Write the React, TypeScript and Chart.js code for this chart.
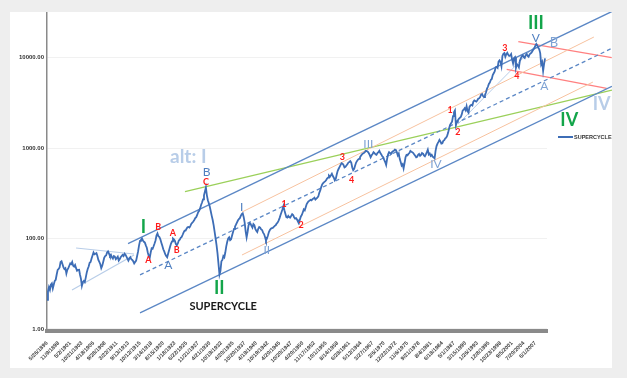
import React, { useEffect, useRef } from "react";
import { Chart, registerables } from "chart.js";

Chart.register(...registerables);

// ---------- DATA ----------
const seriesName = "SUPERCYCLE";

// tick labels of the category-like x axis (one every 6 index units)
const xTickLabels = [
  "5/26/1896", "11/9/1898", "5/2/1901", "10/21/1903", "4/18/1906", "9/28/1908",
  "3/22/1911", "9/13/1913", "10/12/1915", "3/14/1918", "8/15/1920", "1/18/1923",
  "6/22/1925", "11/21/1927", "4/21/1930", "10/19/1932", "4/20/1935", "10/20/1937",
  "4/19/1940", "10/19/1942", "4/20/1945", "10/20/1947", "4/20/1950", "11/17/1952",
  "10/1/1955", "8/14/1958", "6/28/1961", "5/12/1964", "3/27/1967", "2/6/1970",
  "12/22/1972", "11/6/1975", "9/21/1978", "8/4/1981", "6/18/1984", "5/1/1987",
  "3/15/1990", "1/26/1993", "12/8/1995", "10/23/1998", "9/5/2001", "7/20/2004",
  "6/1/2007",
];

const yTickValues = [10, 100, 1000, 10000];
const yTickLabels = ["1.00", "100.00", "1000.00", "10000.00"];

// index values, equally spaced (half an index unit apart)
const indexValues = [
  21, 26, 29, 27, 31, 32, 28, 31, 34, 35,
  40, 45, 46, 48, 55, 56, 52, 48, 46, 47,
  41, 45, 47, 50, 53, 52, 55, 50, 49, 51,
  47, 44, 45, 46, 40, 36, 30, 33, 34, 33,
  37, 42, 46, 49, 54, 55, 60, 65, 70, 67,
  68, 69, 64, 58, 55, 52, 47, 50, 55, 61,
  64, 65, 70, 72, 68, 64, 66, 62, 60, 64,
  63, 59, 61, 63, 57, 59, 62, 64, 66, 64,
  68, 66, 63, 60, 57, 60, 62, 59, 58, 56,
  53, 55, 57, 64, 72, 84, 94, 97, 100, 95,
  92, 90, 84, 79, 70, 64, 61, 70, 78, 77,
  82, 88, 95, 108, 114, 106, 104, 98, 90, 83,
  76, 72, 67, 64, 62, 68, 74, 81, 88, 93,
  100, 98, 94, 87, 84, 88, 95, 97, 102, 104,
  110, 117, 122, 122, 128, 133, 134, 132, 138, 146,
  150, 154, 160, 168, 172, 182, 195, 202, 215, 235,
  250, 270, 300, 330, 366, 300, 265, 245, 225, 200,
  178, 160, 140, 118, 100, 84, 68, 52, 40, 44,
  56, 58, 64, 62, 70, 82, 92, 100, 103, 96,
  98, 108, 118, 128, 135, 142, 150, 158, 164, 168,
  178, 186, 190, 172, 150, 120, 103, 118, 140, 148,
  146, 138, 132, 144, 140, 128, 122, 118, 128, 134,
  132, 126, 124, 116, 112, 104, 95, 100, 108, 118,
  124, 128, 130, 131, 134, 138, 140, 146, 150, 158,
  168, 182, 195, 210, 228, 205, 188, 172, 170, 178,
  172, 170, 178, 186, 182, 172, 166, 168, 162, 154,
  148, 162, 175, 182, 195, 210, 205, 222, 240, 250,
  258, 262, 268, 264, 272, 276, 282, 270, 276, 282,
  292, 320, 340, 370, 395, 410, 420, 428, 440, 460,
  470, 495, 482, 500, 520, 490, 470, 440, 455, 510,
  560, 590, 620, 650, 680, 670, 650, 610, 620, 640,
  660, 690, 700, 715, 690, 610, 570, 590, 640, 690,
  720, 745, 760, 790, 820, 850, 870, 880, 900, 930,
  925, 910, 880, 840, 790, 830, 860, 900, 880, 850,
  840, 880, 900, 930, 880, 850, 810, 790, 740, 700,
  650, 760, 850, 900, 880, 870, 900, 920, 930, 960,
  950, 900, 830, 870, 760, 700, 640, 660, 595, 680,
  790, 840, 830, 860, 880, 930, 910, 900, 880, 850,
  820, 790, 800, 840, 860, 820, 840, 880, 870, 830,
  810, 850, 900, 960, 850, 870, 820, 840, 800, 790,
  770, 930, 1050, 1120, 1170, 1230, 1180, 1120, 1130, 1200,
  1220, 1280, 1300, 1370, 1480, 1650, 1800, 1880, 1950, 2250,
  2480, 2600, 1780, 1950, 2020, 2100, 2150, 2200, 2350, 2600,
  2650, 2750, 2620, 2900, 2550, 2450, 2850, 2950, 3000, 2950,
  3250, 3350, 3300, 3250, 3350, 3500, 3550, 3650, 3900, 3950,
  3750, 3650, 3850, 4100, 4500, 4750, 5100, 5300, 5650, 5800,
  6400, 6700, 7000, 7800, 7900, 7700, 9000, 9300, 8900, 8000,
  10400, 11000, 11200, 10200, 10900, 11300, 10700, 10400, 10500, 10900,
  9500, 8600, 9900, 10100, 7700, 8400, 8200, 7800, 9200, 9800,
  10300, 10600, 10100, 9900, 10600, 10900, 10400, 10200, 10800, 11100,
  11300, 11800, 12300, 12700, 13500, 14100, 13600, 12800, 12300, 11200,
  8400, 8900, 7100, 8500, 9800,
];

const POINT_STEP = 0.5;
const TICK_STEP = 6;
const X_MAX = 258;

// ---------- STYLES ----------
const SERIES_BLUE = "#3d6db6";
const CH_BLUE = "#5b87c5";
const ORANGE = "#f7c29f";
const GREEN_LINE = "#9bd05a";
const RED_LINE = "#ff8080";
const PALE_BLUE = "#b8cde8";
const GREEN_TXT = "#13a54a";
const RED_TXT = "#ff1a1a";
const BLUE_TXT = "#4f7fc0";
const BLUE_TXT_LIGHT = "#7fa3d4";

// guide lines drawn in data space: [index, value] end points
const guideLines = [
  { pts: [[41.8, 87.6], [291.5, 32300]], color: CH_BLUE, width: 1.3, dash: [] },
  { pts: [[48.0, 39.6], [291.5, 12640]], color: CH_BLUE, width: 1.3, dash: [4, 3] },
  { pts: [[48.0, 15.1], [291.5, 4810]], color: CH_BLUE, width: 1.3, dash: [] },
  { pts: [[100.6, 196], [282.2, 16850]], color: ORANGE, width: 1, dash: [] },
  { pts: [[100.6, 65.7], [281.7, 5360]], color: ORANGE, width: 1, dash: [] },
  { pts: [[71.2, 329], [291.5, 4375]], color: GREEN_LINE, width: 1.3, dash: [] },
  { pts: [[243.2, 14950], [291.4, 9950]], color: RED_LINE, width: 1.3, dash: [] },
  { pts: [[237.2, 7410], [288.8, 4567]], color: RED_LINE, width: 1.3, dash: [] },
  { pts: [[15.0, 78.5], [44.9, 67.4]], color: PALE_BLUE, width: 1.2, dash: [] },
  { pts: [[12.9, 27.0], [44.9, 65.7]], color: PALE_BLUE, width: 1.2, dash: [] },
  { pts: [[212.1, 1841], [252.3, 13740]], color: PALE_BLUE, width: 1, dash: [] },
];

// wave labels anchored in data space
const waveLabels = [
  { text: "I", i: 49.7, v: 135, color: GREEN_TXT, size: 18, bold: true },
  { text: "II", i: 88.9, v: 28.2, color: GREEN_TXT, size: 18, bold: true },
  { text: "III", i: 252.3, v: 24240, color: GREEN_TXT, size: 18, bold: true },
  { text: "IV", i: 269.5, v: 2037, color: GREEN_TXT, size: 18, bold: true },
  { text: "IV", i: 286.2, v: 3063, color: PALE_BLUE, size: 18, bold: true },
  { text: "alt: I", i: 72.9, v: 802, color: PALE_BLUE, size: 19, bold: true },
  { text: "SUPERCYCLE", i: 90.9, v: 17.6, color: "#1a1a1a", size: 11, bold: true },
  { text: "B", i: 82.4, v: 547, color: BLUE_TXT, size: 12, bold: false },
  { text: "I", i: 100.5, v: 224, color: BLUE_TXT, size: 12, bold: false },
  { text: "II", i: 113.4, v: 74.6, color: BLUE_TXT_LIGHT, size: 12, bold: false },
  { text: "III", i: 165.8, v: 1106, color: BLUE_TXT_LIGHT, size: 12, bold: false },
  { text: "IV", i: 200.7, v: 661, color: BLUE_TXT_LIGHT, size: 12, bold: false },
  { text: "V", i: 252.2, v: 16560, color: BLUE_TXT, size: 12, bold: false },
  { text: "B", i: 261.6, v: 14570, color: BLUE_TXT_LIGHT, size: 13, bold: false },
  { text: "A", i: 256.6, v: 4845, color: BLUE_TXT_LIGHT, size: 12, bold: false },
  { text: "A", i: 62.6, v: 50.9, color: BLUE_TXT, size: 12, bold: false },
  { text: "C", i: 82.0, v: 425, color: RED_TXT, size: 9, bold: true },
  { text: "B", i: 57.4, v: 135, color: RED_TXT, size: 9, bold: true },
  { text: "A", i: 52.3, v: 57.9, color: RED_TXT, size: 9, bold: true },
  { text: "A", i: 64.9, v: 114, color: RED_TXT, size: 9, bold: true },
  { text: "B", i: 66.9, v: 74.6, color: RED_TXT, size: 9, bold: true },
  { text: "1", i: 122.4, v: 240, color: RED_TXT, size: 9, bold: true },
  { text: "2", i: 131.1, v: 141, color: RED_TXT, size: 9, bold: true },
  { text: "3", i: 152.4, v: 802, color: RED_TXT, size: 9, bold: true },
  { text: "4", i: 157.2, v: 443, color: RED_TXT, size: 9, bold: true },
  { text: "1", i: 208.0, v: 2630, color: RED_TXT, size: 9, bold: true },
  { text: "2", i: 212.0, v: 1514, color: RED_TXT, size: 9, bold: true },
  { text: "3", i: 236.3, v: 12830, color: RED_TXT, size: 9, bold: true },
  { text: "4", i: 242.4, v: 6250, color: RED_TXT, size: 9, bold: true },
];

const FONT = "Lato, 'Open Sans', 'Liberation Sans', sans-serif";

const textPlugin = {
  id: "waveText",
  afterDatasetsDraw(chart: any) {
    const { ctx, chartArea } = chart;
    const xs = chart.scales.x;
    const ys = chart.scales.y;
    ctx.save();
    ctx.textAlign = "center";
    ctx.textBaseline = "middle";
    for (const a of waveLabels) {
      ctx.font = `${a.bold ? "bold " : ""}${a.size}px ${FONT}`;
      ctx.fillStyle = a.color;
      ctx.fillText(a.text, xs.getPixelForValue(a.i), ys.getPixelForValue(a.v));
    }
    // legend
    const lx = chartArea.right + 11;
    const ly = chartArea.top + 125;
    ctx.strokeStyle = SERIES_BLUE;
    ctx.lineWidth = 2;
    ctx.beginPath();
    ctx.moveTo(lx, ly);
    ctx.lineTo(lx + 15, ly);
    ctx.stroke();
    ctx.font = `bold 5.5px 'Liberation Sans', sans-serif`;
    ctx.fillStyle = "#333";
    ctx.textAlign = "left";
    ctx.fillText(seriesName, lx + 16, ly + 0.5);
    ctx.restore();
  },
};

export default function App() {
  const ref = useRef<HTMLCanvasElement | null>(null);

  useEffect(() => {
    if (!ref.current) return;
    const datasets: any[] = [
      {
        label: seriesName,
        data: indexValues.map((v, k) => ({ x: k * POINT_STEP, y: v })),
        borderColor: SERIES_BLUE,
        borderWidth: 1.8,
        pointRadius: 0,
        tension: 0,
        clip: false,
      },
      ...guideLines.map((g, k) => ({
        label: "guide" + k,
        data: g.pts.map((p) => ({ x: p[0], y: p[1] })),
        borderColor: g.color,
        borderWidth: g.width,
        borderDash: g.dash,
        pointRadius: 0,
        tension: 0,
        clip: false,
      })),
    ];

    const chart = new Chart(ref.current, {
      type: "line",
      data: { datasets },
      plugins: [textPlugin],
      options: {
        animation: false,
        responsive: false,
        devicePixelRatio: 1,
        layout: { padding: { left: 0, top: 0, right: 65, bottom: 0 } },
        plugins: { legend: { display: false }, tooltip: { enabled: false } },
        scales: {
          x: {
            type: "linear",
            min: 0,
            max: X_MAX,
            afterBuildTicks: (s: any) => {
              s.ticks = xTickLabels.map((_, k) => ({ value: k * TICK_STEP }));
            },
            afterFit: (s: any) => {
              s.height = 37;
              s.paddingLeft = 0;
              s.paddingRight = 0;
            },
            ticks: {
              autoSkip: false,
              minRotation: 45,
              maxRotation: 45,
              padding: 1,
              color: "#444",
              font: { size: 5.5, weight: "bold", family: "'Liberation Sans', sans-serif" },
              callback: (_v: any, idx: number) => xTickLabels[idx],
            },
            grid: { display: false },
            border: { display: true, color: "#8a8a8a", width: 4 },
          },
          y: {
            type: "logarithmic",
            min: 9.5,
            max: 31850,
            afterBuildTicks: (s: any) => {
              s.ticks = yTickValues.map((v) => ({ value: v }));
            },
            afterFit: (s: any) => {
              s.width = 37;
              s.paddingTop = 0;
              s.paddingBottom = 0;
            },
            ticks: {
              autoSkip: false,
              padding: 3,
              color: "#333",
              font: { size: 6, weight: "bold", family: "'Liberation Sans', sans-serif" },
              callback: (_v: any, idx: number) => yTickLabels[idx],
            },
            grid: { color: "#f1f1f1", drawTicks: false, lineWidth: 1 },
            border: { display: true, color: "#8a8a8a", width: 1.5 },
          },
        },
      } as any,
    });
    return () => chart.destroy();
  }, []);

  return (
    <div
      style={{
        position: "fixed",
        left: 0,
        top: 0,
        width: 627,
        height: 378,
        background: "#eeeeee",
      }}
    >
      <div
        style={{
          position: "absolute",
          left: 10,
          top: 12,
          width: 602,
          height: 356,
          background: "#ffffff",
          overflow: "hidden",
        }}
      >
        <canvas ref={ref} width={602} height={356} style={{ display: "block" }} />
      </div>
    </div>
  );
}
